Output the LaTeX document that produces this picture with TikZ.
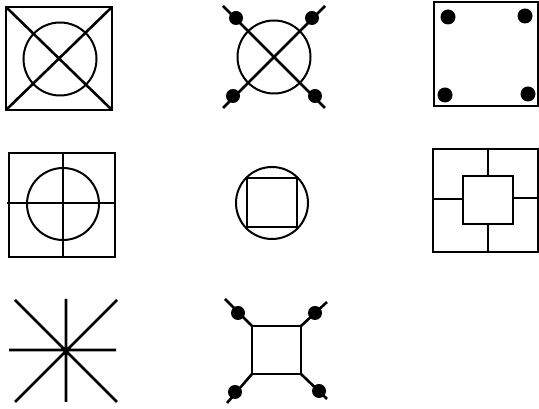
\documentclass[tikz,border=0pt]{standalone}
\begin{document}
\begin{tikzpicture}[x=1pt,y=1pt,line width=2.6pt,ring/.style={line width=2pt}]
\useasboundingbox (0,0) rectangle (539,409);
%% top row
\draw (6,299) rectangle (112,402);
\draw (6,299)--(112,402) (6,402)--(112,299);
\draw[ring] (60,350) circle (36.5pt);

\draw[ring] (274,352) circle (36.5pt);
\draw (223,403)--(325,301) (325,403)--(223,301);
\foreach \p in {(236,391),(312,391),(233,313),(315,313)} \fill \p circle (7pt);

\draw (434,303) rectangle (538,407);
\foreach \p in {(448,392),(525,393),(445,314),(528,315)} \fill \p circle (7.5pt);
%% middle row
\draw (9,152) rectangle (115,256);
\draw (63,152)--(63,256) (7,206)--(115,206);
\draw[ring] (63,205) circle (36pt);

\draw[ring] (272,206) circle (36pt);
\draw (247,182) rectangle (297,231);

\draw (433,157) rectangle (538,260);
\draw (463,185) rectangle (513,233);
\draw (488,260)--(488,233) (433,210)--(463,210) (513,211)--(538,211) (488,185)--(488,157);
%% bottom row
\draw (66,7)--(66,110) (9,59)--(116,59) (15,109)--(117,7) (117,109)--(15,7);

\draw (252,35) rectangle (301,83);
\draw (252,83)--(225,110) (301,83)--(327,107) (252,35)--(227,6) (301,35)--(327,10);
\foreach \p in {(238,96),(315,96),(235,17),(319,18)} \fill \p circle (7pt);
\end{tikzpicture}
\end{document}
